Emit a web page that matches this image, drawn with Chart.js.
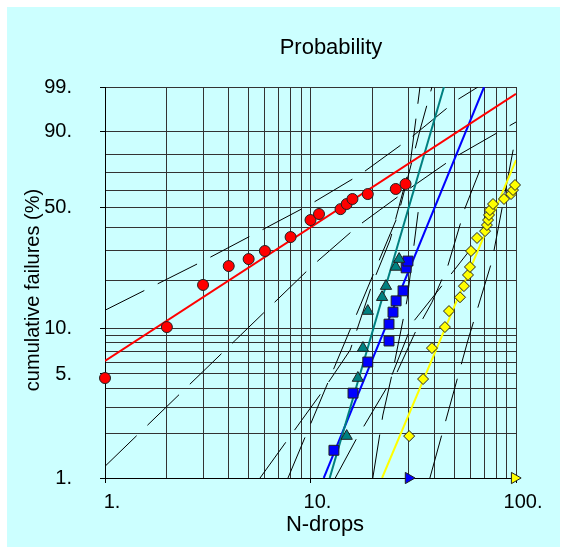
<!DOCTYPE html>
<html>
<head>
<meta charset="utf-8">
<script src="https://cdn.jsdelivr.net/npm/chart.js@4.4.1/dist/chart.umd.min.js"></script>
<style>
  body { margin: 0; background: #fff; }
  #panel { position: absolute; left: 7px; top: 7px; width: 553px; height: 540px; background: #ccffff; }
  #c { position: absolute; left: 0; top: 0; }
</style>
</head>
<body>
<div id="panel"></div>
<canvas id="c" width="567" height="548"></canvas>
<script>
// grid / tick definitions
const xGrid = [1, 2, 3, 4, 5, 6, 7, 8, 9, 10, 20, 30, 40, 50, 60, 70, 80, 90, 100];
const xLabels = { 1: '1.', 10: '10.', 100: '100.' };
const yGridPct = [1, 2, 3, 4, 5, 6, 7, 8, 9, 10, 20, 30, 40, 50, 60, 70, 80, 90, 99];
const yLabels = { 1: '1.', 5: '5.', 10: '10.', 50: '50.', 90: '90.', 99: '99.' };

// failures (N-drops, cumulative %)
const redX = [1, 2, 3, 4, 5, 6, 8, 10, 11, 14, 15, 16, 19, 26, 29];
const redF = [4.7, 10.15, 18.7, 24.3, 26.7, 29.7, 35.5, 43.6, 46.7, 49.3, 52.1, 54.9, 57.7, 60.6, 63.5];
const tealX = [15, 17, 18, 19, 22.3, 23.3, 26, 27];
const tealF = [1.92, 4.7, 7.41, 12.85, 15.7, 18.4, 24.0, 26.7];
const blueX = [13, 16.1, 19, 24.1, 24.1, 25.2, 26.1, 28.2, 29.2, 29.8];
const blueF = [1.54, 3.73, 6.0, 8.24, 10.6, 12.65, 14.9, 17.2, 23.7, 26.0];
const yellowX = [30.2, 35.3, 39.0, 45.1, 47.2, 53.4, 55.8, 58.4, 59.7, 60.4, 64.6, 70.7, 72.2, 73.1, 73.9, 74.7, 77.3, 87.4, 94.6, 96.7, 98.9];
const yellowF = [1.92, 4.63, 7.41, 10.15, 12.85, 15.7, 18.4, 21.5, 24.0, 29.7, 35.1, 38.2, 41.1, 43.6, 46.2, 48.8, 52.1, 54.9, 57.7, 60.0, 62.9];

// suspensions (drawn on the 1% line)
const blueSuspX = [30];
const yellowSuspX = [98.5];

// fitted lines (end points)
const redFitX = [1, 100];
const redFitF = [6.1, 98.4];
const tealFitX = [12.4, 44.6];
const tealFitF = [1, 99];
const blueFitX = [11.6, 69.9];
const blueFitF = [1, 99];
const yellowFitX = [22.3, 100];
const yellowFitF = [1, 76.9];

// dashed bound lines, [x, F%] pairs
const boundA = [[1, 1.2], [10.28, 24.6], [17.0, 40.6], [27.3, 57.1], [50.5, 78.5], [100, 93.0]];
const boundB = [[1, 13.0], [3.0, 26.0], [9.83, 51.5], [17.6, 69.2], [30.2, 86.97], [51.6, 97.66], [65.3, 99]];
const boundC = [[7.77, 1], [26.7, 46.2], [34.1, 90.4], [39.0, 99]];
const boundD = [[5.68, 1], [11.1, 3.62], [15.6, 7.19], [19.9, 18.7], [24.4, 34.2], [30.5, 74.2], [34.1, 99]];
const boundE = [[38.1, 1], [58.4, 8.36], [76.4, 26.0], [100, 88.6]];
const boundG = [[13.2, 1], [16.8, 1.86], [23.6, 4.09], [31.5, 10.9], [45.1, 19.5], [59.7, 30.1]];
const boundH = [[26.4, 5.15], [32.2, 9.28], [39.0, 14.6], [46.7, 24.6], [56.5, 49.9], [66.8, 71.5]];
const boundI = [[20.1, 1], [22.5, 2.66], [25.2, 5.31], [29.5, 15.1], [33.4, 47.7]];
const bounds = [boundA, boundB, boundC, boundD, boundE, boundG, boundH, boundI];

const weib = p => Math.log(-Math.log(1 - p / 100));
const toPts = (xs, fs) => xs.map((x, i) => ({ x: x, y: weib(fs[i]) }));

function markerSet(xs, fs, style, color, radius, rotation) {
  return {
    data: toPts(xs, fs),
    pointStyle: style,
    pointRotation: rotation || 0,
    pointRadius: radius,
    backgroundColor: color,
    borderColor: '#202020',
    pointBorderWidth: 1,
    showLine: false,
    clip: false
  };
}

function lineSet(xs, fs, color) {
  return {
    data: toPts(xs, fs),
    showLine: true,
    borderColor: color,
    borderWidth: 2,
    pointRadius: 0
  };
}

const datasets = [
  markerSet(redX, redF, 'circle', '#ff0000', 5.5),
  markerSet(tealX, tealF, 'triangle', '#008080', 6.5),
  markerSet(blueX, blueF, 'rect', '#0000ff', 7),
  markerSet(yellowX, yellowF, 'rectRot', '#ffff00', 5.5),
  markerSet(blueSuspX, [1], 'triangle', '#0000ff', 6.5, 90),
  markerSet(yellowSuspX, [1], 'triangle', '#ffff00', 6.5, 90),
  lineSet(redFitX, redFitF, '#ff0000'),
  lineSet(tealFitX, tealFitF, '#008080'),
  lineSet(blueFitX, blueFitF, '#0000ff'),
  lineSet(yellowFitX, yellowFitF, '#ffff00')
];

bounds.forEach(b => {
  datasets.push({
    data: b.map(p => ({ x: p[0], y: weib(p[1]) })),
    showLine: true,
    borderColor: '#000',
    borderWidth: 1,
    borderDash: [44, 15],
    pointRadius: 0
  });
});

const FONT = '"Liberation Sans", Arial, sans-serif';

const textPlugin = {
  id: 'texts',
  afterDraw(chart) {
    const ctx = chart.ctx;
    ctx.save();
    ctx.fillStyle = '#000';
    ctx.textAlign = 'center';
    ctx.textBaseline = 'alphabetic';
    ctx.font = '22px ' + FONT;
    ctx.fillText('Probability', 331, 54);
    ctx.fillText('N-drops', 325, 531);
    ctx.font = '20px ' + FONT;
    ctx.translate(39, 290);
    ctx.rotate(-Math.PI / 2);
    ctx.fillText('cumulative failures (%)', 0, 0);
    ctx.restore();
  }
};

Chart.defaults.font.family = FONT;
Chart.defaults.font.size = 20;
Chart.defaults.color = '#000';

new Chart(document.getElementById('c'), {
  type: 'scatter',
  data: { datasets: datasets },
  options: {
    responsive: false,
    animation: false,
    devicePixelRatio: 1,
    layout: { padding: { left: 0, top: 87, right: 51, bottom: 0 } },
    plugins: { legend: { display: false }, tooltip: { enabled: false }, title: { display: false } },
    scales: {
      x: {
        type: 'logarithmic',
        min: 1,
        max: 100,
        afterBuildTicks: scale => { scale.ticks = xGrid.map(v => ({ value: v })); },
        afterFit: scale => { scale.height = 70; },
        ticks: {
          autoSkip: false,
          maxRotation: 0,
          padding: 7,
          labelOffset: 7,
          callback: value => xLabels[value] || ''
        },
        grid: {
          color: '#333',
          lineWidth: 1,
          tickLength: 5,
          tickColor: ctx => (ctx.tick && xLabels[ctx.tick.value]) ? '#000' : 'rgba(0,0,0,0)'
        },
        border: { display: true, color: '#000', width: 1 }
      },
      y: {
        type: 'linear',
        min: weib(1),
        max: weib(99),
        afterBuildTicks: scale => { scale.ticks = yGridPct.map(p => ({ value: weib(p) })); },
        afterFit: scale => { scale.width = 105; },
        ticks: {
          autoSkip: false,
          padding: 28,
          callback: (value, index) => yLabels[yGridPct[index]] || ''
        },
        grid: {
          color: '#333',
          lineWidth: 1,
          tickLength: 5,
          tickColor: ctx => (ctx.index !== undefined && yLabels[yGridPct[ctx.index]]) ? '#000' : 'rgba(0,0,0,0)'
        },
        border: { display: true, color: '#000', width: 1 }
      }
    }
  },
  plugins: [textPlugin]
});
</script>
</body>
</html>
